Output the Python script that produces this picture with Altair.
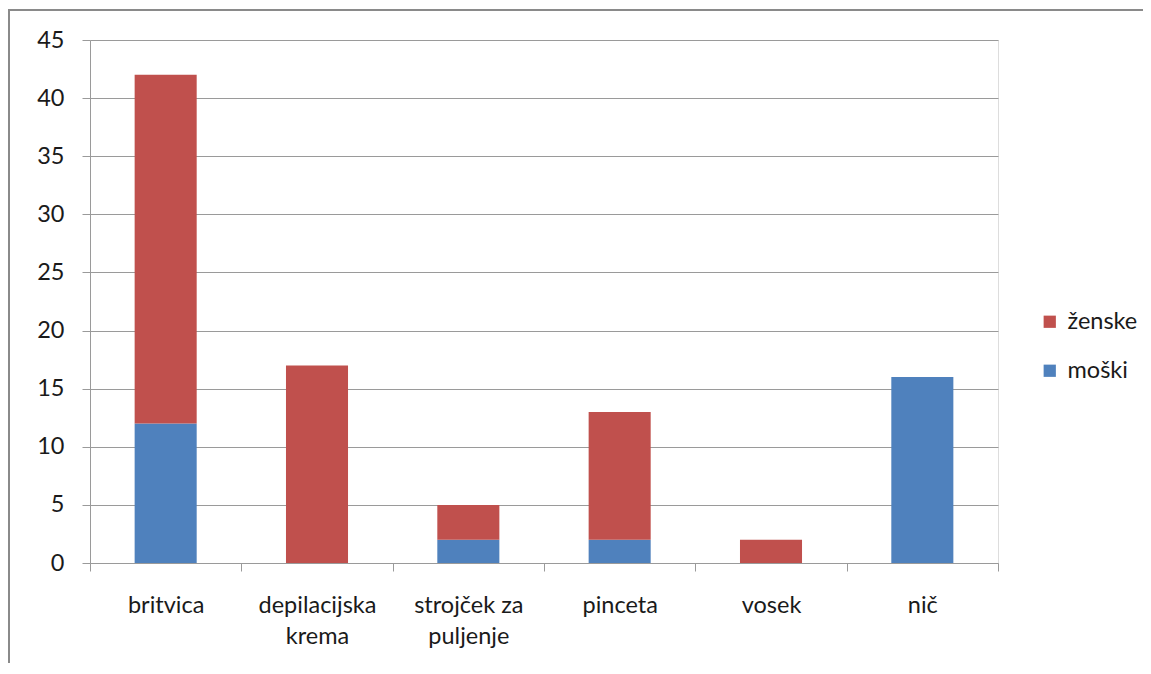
import altair as alt
import pandas as pd

categories = ["britvica", "depilacijska krema", "strojček za puljenje", "pinceta", "vosek", "nič"]
moski = [12, 0, 2, 2, 0, 16]
zenske = [30, 17, 3, 11, 2, 0]
series = ["ženske", "moški"]
colors = ["#C0504D", "#4F81BD"]
y_ticks = [0, 5, 10, 15, 20, 25, 30, 35, 40, 45]

rows = []
for c, m, z in zip(categories, moski, zenske):
    rows.append({"cat": c, "spol": "moški", "val": m, "ord": 0})
    rows.append({"cat": c, "spol": "ženske", "val": z, "ord": 1})
df = pd.DataFrame(rows)

FONT = "Lato"
FS = 23.5
GRID = "#9a9a9a"

label_expr = ("datum.label == 'depilacijska krema' ? ['depilacijska', 'krema'] : "
              "datum.label == 'strojček za puljenje' ? ['strojček za', 'puljenje'] : datum.label")

bars = alt.Chart(df).mark_bar(width=alt.RelativeBandSize(0.41)).encode(
    x=alt.X("cat:N", sort=categories, title=None,
            scale=alt.Scale(paddingInner=0, paddingOuter=0),
            axis=alt.Axis(labelAngle=0, tickBand="extent", grid=False,
                          domainColor=GRID, tickColor=GRID, tickSize=8,
                          labelPadding=22, labelFont=FONT, labelFontSize=FS,
                          labelColor="#1a1a1a", labelExpr=label_expr,
                          labelLineHeight=31, labelBaseline="top")),
    y=alt.Y("val:Q", stack="zero", title=None,
            scale=alt.Scale(domain=[0, 45], nice=False),
            axis=alt.Axis(values=y_ticks, grid=True, gridColor=GRID,
                          domainColor=GRID, tickColor=GRID, tickSize=8,
                          labelPadding=18, labelFont=FONT, labelFontSize=FS,
                          labelColor="#1a1a1a")),
    color=alt.Color("spol:N", scale=alt.Scale(domain=series, range=colors),
                    legend=alt.Legend(title=None, orient="none", legendX=948, legendY=270,
                                      symbolType="square", symbolSize=150,
                                      symbolStrokeWidth=0, labelFont=FONT,
                                      labelFontSize=FS, labelColor="#1a1a1a",
                                      rowPadding=24, labelOffset=6)),
    order=alt.Order("ord:Q", sort="ascending"),
)

border_top = alt.Chart(df).mark_rule(color="#8a8a8a", strokeWidth=2).encode(
    x=alt.value(-81), x2=alt.value(1060), y=alt.value(-30))
border_left = alt.Chart(df).mark_rule(color="#8a8a8a", strokeWidth=2).encode(
    x=alt.value(-81), y=alt.value(-31), y2=alt.value(640))

chart = alt.layer(bars, border_top, border_left).properties(
    width=908, height=523,
    autosize=alt.AutoSizeParams(type="none"),
    padding={"left": 82, "top": 32, "right": 145, "bottom": 100},
).configure_view(stroke=None).configure(background="white")

chart.save("out.html", embed_options={"renderer": "svg", "actions": False})
